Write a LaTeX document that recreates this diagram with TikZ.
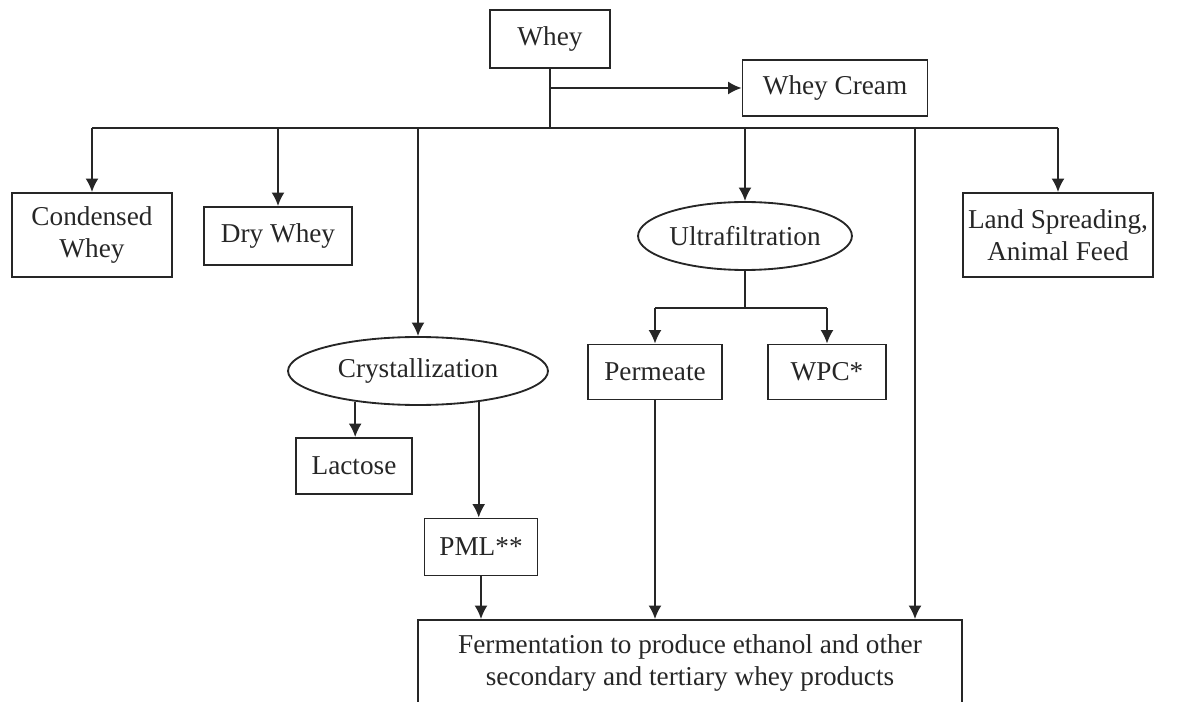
\documentclass[tikz,border=0pt]{standalone}
\usepackage{fontspec}
\setmainfont{Liberation Serif}
\usepackage{tikz}
\usetikzlibrary{shapes.geometric, arrows.meta}

\begin{document}
\begin{tikzpicture}[x=0.02cm, y=-0.02cm, >={Latex[length=0.27cm,width=0.26cm]},
  every node/.style={font=\fontsize{15.5}{18.5}\selectfont, text=black!85},
  prodbox/.style={rectangle, draw=black!85, line width=1.05pt, inner sep=0pt, align=center},
  procoval/.style={ellipse, draw=black!85, line width=1.05pt, inner sep=0pt},
  link/.style={draw=black!85, line width=1.05pt}]

\useasboundingbox (0,0) rectangle (1193,702);

% Source
\node[prodbox, minimum width=2.4cm, minimum height=1.16cm] at (550,39) (whey) {Whey};
\node[prodbox, minimum width=3.7cm, minimum height=1.12cm] at (835,88) (cream) {Whey Cream};

% First level products
\node[prodbox, minimum width=3.2cm, minimum height=1.68cm] at (92,235) (cw) {Condensed\\Whey};
\node[prodbox, minimum width=2.96cm, minimum height=1.16cm] at (278,236) (dw) {Dry Whey};
\node[procoval, minimum width=3.72cm, minimum height=1.36cm] at (745,236) (uf) {Ultrafiltration};
\node[prodbox, minimum width=3.8cm, minimum height=1.68cm] at (1058,235) (land) {Land Spreading,\\Animal Feed};

% Crystallization branch
\node[procoval, minimum width=5.2cm, minimum height=1.36cm] at (418,371) (cryst) {Crystallization};
\node[prodbox, minimum width=2.32cm, minimum height=1.12cm] at (354,466) (lact) {Lactose};
\node[prodbox, minimum width=2.26cm, minimum height=1.14cm] at (481,547) (pml) {PML**};

% Ultrafiltration outputs
\node[prodbox, minimum width=2.68cm, minimum height=1.1cm] at (655,372) (perm) {Permeate};
\node[prodbox, minimum width=2.36cm, minimum height=1.1cm] at (827,372) (wpc) {WPC*};

% Fermentation
\node[prodbox, minimum width=10.88cm, minimum height=1.72cm] at (690,663) (ferm) {Fermentation to produce ethanol and other\\secondary and tertiary whey products};

% Bus points
\coordinate (bus) at (550,128);
\coordinate (tap) at (915,128);
\coordinate (split) at (745,308);

% Whey to cream and bus
\draw[link] (whey.south) -- (whey.south |- bus);
\draw[link,->] (whey.south |- cream.west) -- (cream.west);
\draw[link] (cw.north |- bus) -- (land.north |- bus);

% Bus to first level
\foreach \dest in {cw,dw,cryst,uf,land} {
  \draw[link,->] (\dest.north |- bus) -- (\dest.north);
}
\draw[link,->] (tap) -- (tap |- ferm.north);

% Crystallization to products
\draw[link,->] (cryst.206) -- (cryst.206 |- lact.north);
\draw[link,->] (cryst.333) -- (cryst.333 |- pml.north);

% Ultrafiltration split
\draw[link] (uf.south) -- (split);
\draw[link] (perm.north |- split) -- (wpc.north |- split);
\foreach \dest in {perm,wpc} {
  \draw[link,->] (\dest.north |- split) -- (\dest.north);
}

% Into fermentation
\draw[link,->] (pml.south) -- (pml.south |- ferm.north);
\draw[link,->] (perm.south) -- (perm.south |- ferm.north);

\end{tikzpicture}
\end{document}
